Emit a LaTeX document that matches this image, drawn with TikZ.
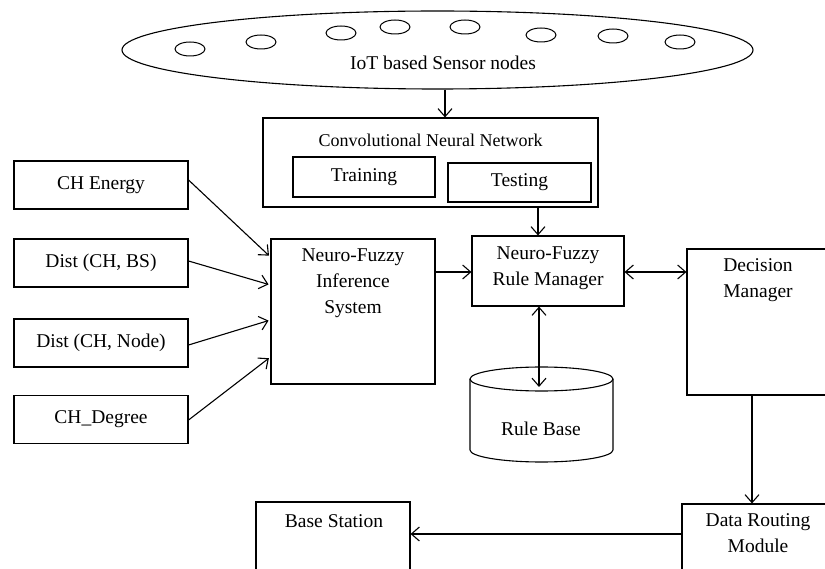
\documentclass[tikz,border=0pt]{standalone}
\usepackage{fontspec}
\setmainfont{Liberation Serif}
\usetikzlibrary{arrows.meta,shapes.geometric,calc}
\begin{document}
\begin{tikzpicture}[x=1pt,y=-1pt,line width=1.1pt,
  box/.style={draw,rectangle,inner sep=0pt},
  txt/.style={font=\fontsize{19.5}{26}\selectfont,align=center,inner sep=0pt},
  arr/.style={-{Straight Barb[length=8pt,width=14pt]}},
  darr/.style={{Straight Barb[length=8pt,width=14pt]}-{Straight Barb[length=8pt,width=14pt]}},
  sens/.style={draw,ellipse,minimum width=30pt,minimum height=14pt,inner sep=0pt,line width=1pt}]
\clip (0,0) rectangle (825,569);
\fill[white] (0,0) rectangle (825,569);

% sensor field
\node[draw,ellipse,minimum width=631pt,minimum height=78pt,inner sep=0pt] (iot) at (437.5,50) {};
\node[txt,font=\fontsize{19.5}{24}\selectfont] (iottxt) at (443,63) {IoT based Sensor nodes};
\node[sens] (s1) at (190,49) {};
\node[sens] (s2) at (261,42) {};
\node[sens] (s3) at (341,33) {};
\node[sens] (s4) at (395,27) {};
\node[sens] (s5) at (465,27) {};
\node[sens] (s6) at (541,35) {};
\node[sens] (s7) at (613,36) {};
\node[sens] (s8) at (680,42) {};

% CNN
\node[box,minimum width=335pt,minimum height=89pt] (cnn) at (430.5,162.5) {};
\node[txt,font=\fontsize{18}{22}\selectfont] (cnntxt) at (430.5,140) {Convolutional Neural Network};
\node[box,txt,minimum width=142pt,minimum height=40pt] (train) at (364,177) {Training};
\node[box,txt,minimum width=143pt,minimum height=39pt] (test) at (519.5,182.5) {Testing};

% inputs
\node[box,txt,minimum width=174pt,minimum height=48pt] (che) at (101,185) {CH Energy};
\node[box,txt,minimum width=174pt,minimum height=48pt] (dbs) at (101,263) {Dist (CH, BS)};
\node[box,txt,minimum width=174pt,minimum height=48pt] (dnode) at (101,343) {Dist (CH, Node)};
\node[box,txt,minimum width=174pt,minimum height=48pt] (chd) at (101,419.5) {CH\_Degree};

% NFIS
\node[box,minimum width=164pt,minimum height=145pt] (nfis) at (353,311.5) {};
\node[txt,anchor=north] (nfistxt) at (353,248) {Neuro-Fuzzy\\Inference\\System};

% NFRM
\node[box,minimum width=152pt,minimum height=70pt] (nfrm) at (548,271) {};
\node[txt] (nfrmtxt) at (548,268.5) {Neuro-Fuzzy\\Rule Manager};

% Decision manager
\node[box,minimum width=142pt,minimum height=146pt] (dm) at (758,322) {};
\node[txt,anchor=north] (dmtxt) at (758,258) {Decision\\Manager};

% Rule base cylinder
\draw (541.5,379) ellipse [x radius=71.5,y radius=12];
\draw (470,379) -- (470,450) arc[start angle=180,end angle=0,x radius=71.5,y radius=12] -- (613,379);
\node[txt] (rbtxt) at (541,429) {Rule Base};
\coordinate (rbtop) at (539,387);

% Data routing and base station
\node[box,minimum width=152pt,minimum height=86pt] (drm) at (758,547) {};
\node[txt,anchor=north] (drmtxt) at (758,513) {Data Routing\\Module};
\node[box,minimum width=154pt,minimum height=88pt] (bs) at (333,546) {};
\node[txt] (bstxt) at (334,521) {Base Station};

% connectors
\draw[arr] (iot.south -| 445,0) -- (cnn.north -| 445,0);
\draw[arr] (cnn.south -| 538,0) -- (nfrm.north -| 538,0);
\draw[arr,shorten >=2pt] (che.east |- 0,180) -- (nfis.west |- 0,257);
\draw[arr,shorten >=2pt] (dbs.east |- 0,261) -- (nfis.west |- 0,285);
\draw[arr,shorten >=2pt] (dnode.east |- 0,345) -- (nfis.west |- 0,320);
\draw[arr,shorten >=2pt] (chd.east |- 0,420) -- (nfis.west |- 0,357);
\draw[arr] (nfis.east |- 0,272) -- (nfrm.west |- 0,272);
\draw[darr] (nfrm.east |- 0,272) -- (dm.west |- 0,272);
\draw[darr] (nfrm.south -| rbtop) -- (rbtop);
\draw[arr] (dm.south -| 752,0) -- (drm.north -| 752,0);
\draw[arr] (drm.west |- 0,534) -- (bs.east |- 0,534);
\end{tikzpicture}
\end{document}
